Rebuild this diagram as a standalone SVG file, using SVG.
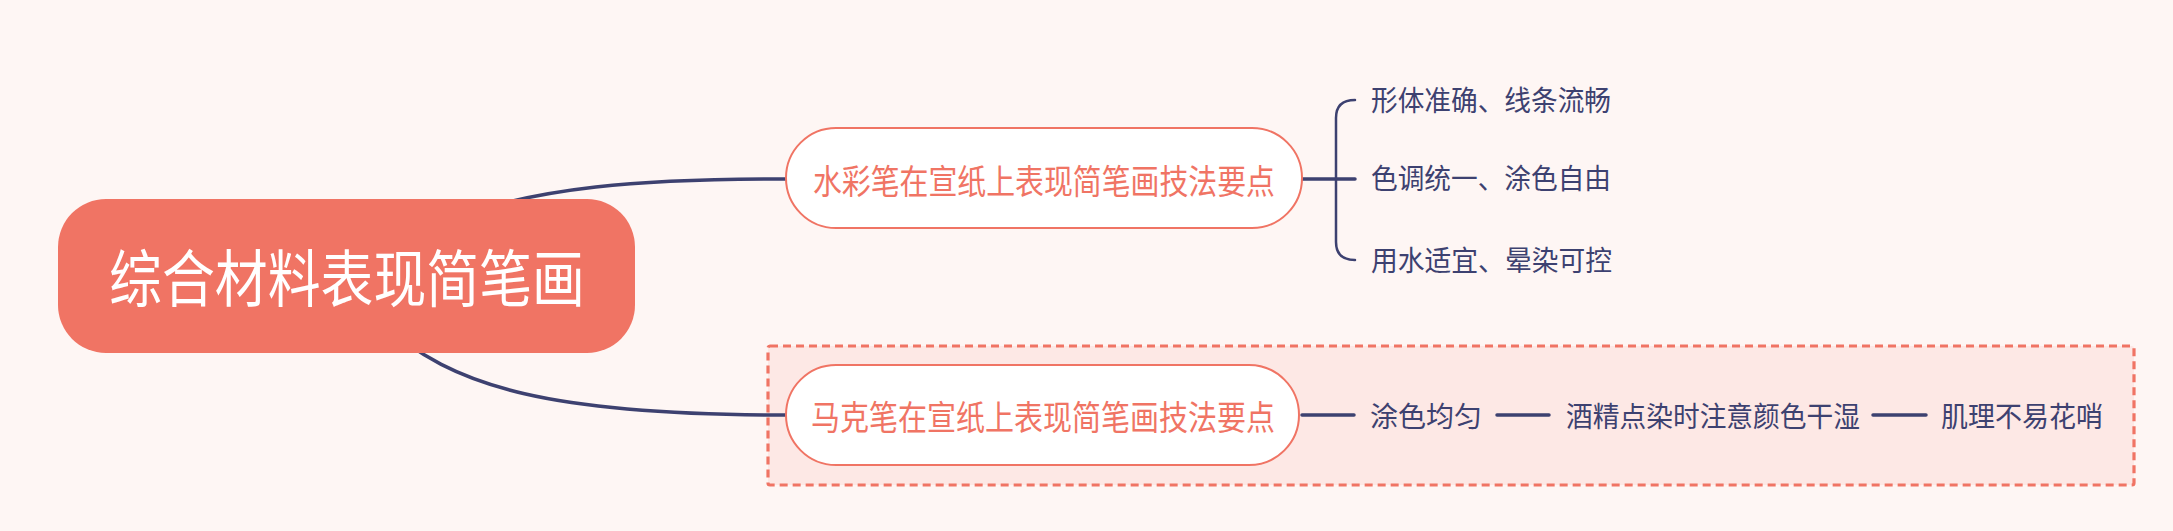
<svg xmlns="http://www.w3.org/2000/svg" width="2173" height="531" viewBox="0 0 2173 531">
<style>
.bg{fill:#FEF6F4}
.conn{fill:none;stroke:#3D4170;stroke-width:3.5;stroke-linecap:round}
.thin{fill:none;stroke:#3D4170;stroke-width:2.5;stroke-linecap:round}
.root{fill:#F07464}
.sub{fill:#FFFFFF;stroke:#F07464;stroke-width:2}
.rt{font-family:"Noto Sans CJK SC","Noto Sans",sans-serif;fill:#FFFFFF;font-size:62px}
.st{font-family:"Noto Sans CJK SC","Noto Sans",sans-serif;fill:#F07464;font-size:34px}
.ct{font-family:"Noto Sans CJK SC","Noto Sans",sans-serif;fill:#3D4170;font-size:28px}
.frame{fill:#FDE8E5;stroke:#F07464;stroke-width:3.2;stroke-dasharray:8 5}
</style>
<rect class="bg" x="0" y="0" width="2173" height="531"/>
<g id="boundary">
<rect class="frame" x="768" y="346" width="1366" height="139" rx="2"/>
</g>
<g id="connectors">
<path class="conn" d="M 440 222 C 540 186, 640 179, 786 179"/>
<path class="conn" d="M 380 320 C 450 390, 560 415, 786 415"/>
<path class="conn" d="M 1302 179 L 1355 179"/>
<path class="thin" d="M 1355 100 C 1342 100, 1336 106, 1336 118 L 1336 242 C 1336 254, 1342 260, 1355 260"/>
<path class="conn" d="M 1302 415 L 1354 415"/>
<path class="conn" d="M 1497 415 L 1549 415"/>
<path class="conn" d="M 1873 415 L 1926 415"/>
</g>
<g id="root">
<rect class="root" x="58" y="199" width="577" height="154" rx="48" ry="48"/>
<text class="rt" x="347" y="302" text-anchor="middle" textLength="476" lengthAdjust="spacingAndGlyphs">综合材料表现简笔画</text>
</g>
<g id="node-watercolor">
<rect class="sub" x="786" y="128" width="516" height="100" rx="50" ry="50"/>
<text class="st" x="1044" y="194" text-anchor="middle" textLength="462" lengthAdjust="spacingAndGlyphs">水彩笔在宣纸上表现简笔画技法要点</text>
</g>
<g id="node-w1">
<text class="ct" x="1371" y="111" textLength="240" lengthAdjust="spacingAndGlyphs">形体准确、线条流畅</text>
</g>
<g id="node-w2">
<text class="ct" x="1371" y="189" textLength="240" lengthAdjust="spacingAndGlyphs">色调统一、涂色自由</text>
</g>
<g id="node-w3">
<text class="ct" x="1371" y="271" textLength="241" lengthAdjust="spacingAndGlyphs">用水适宜、晕染可控</text>
</g>
<g id="node-marker">
<rect class="sub" x="786" y="365" width="513" height="100" rx="50" ry="50"/>
<text class="st" x="1043" y="430" text-anchor="middle" textLength="464" lengthAdjust="spacingAndGlyphs">马克笔在宣纸上表现简笔画技法要点</text>
</g>
<g id="node-m1">
<text class="ct" x="1370" y="427" textLength="112" lengthAdjust="spacingAndGlyphs">涂色均匀</text>
</g>
<g id="node-m2">
<text class="ct" x="1566" y="427" textLength="294" lengthAdjust="spacingAndGlyphs">酒精点染时注意颜色干湿</text>
</g>
<g id="node-m3">
<text class="ct" x="1941" y="427" textLength="162" lengthAdjust="spacingAndGlyphs">肌理不易花哨</text>
</g>
</svg>
